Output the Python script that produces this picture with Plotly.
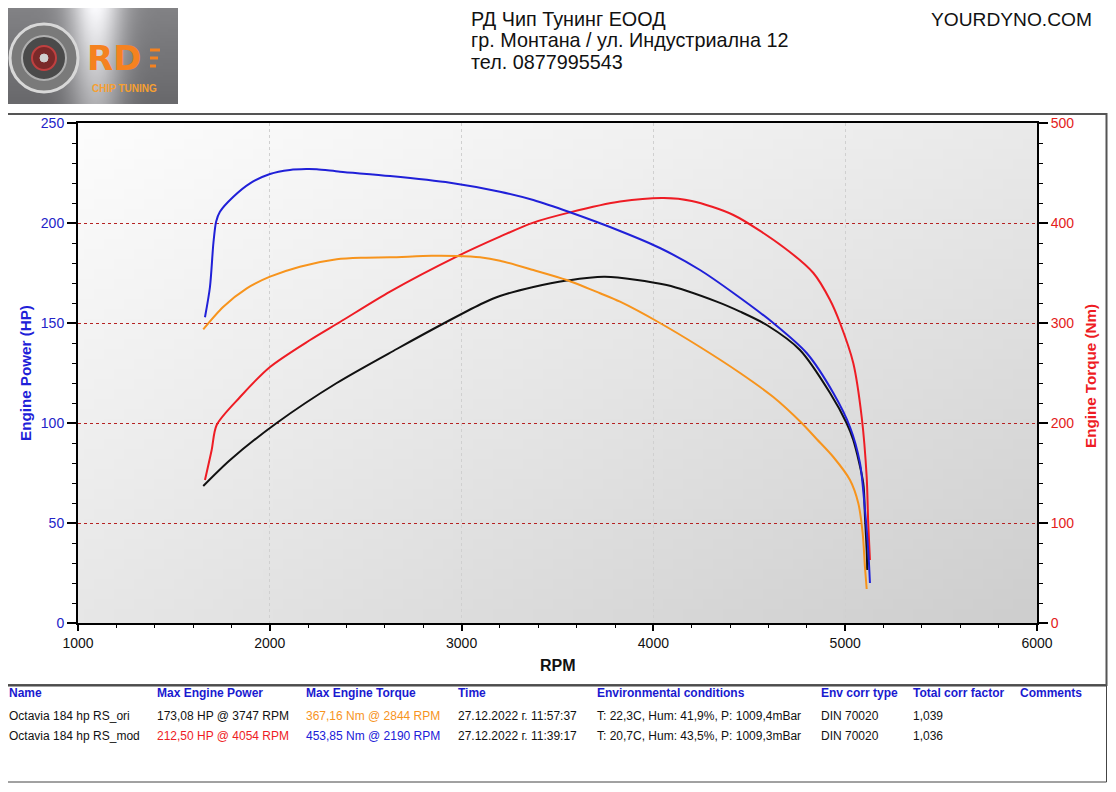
import zlib, struct, base64, math
import plotly.graph_objects as go

# ---------------- data ----------------
rpm_mod_power = [1662, 1697, 1723, 1845, 2001, 2210, 2366, 2627, 2974, 3200, 3374, 3565, 3826, 4054, 4200, 4417, 4677, 4834, 4921, 4973, 5042, 5086, 5112, 5120, 5129]
mod_power_hp = [71.5, 86.5, 99, 113, 128, 141.5, 150.5, 165.7, 183.2, 193.2, 200.2, 205.3, 210.7, 212.5, 211, 204, 188, 175, 161.5, 150, 130, 103, 73, 50, 31.5]

rpm_mod_torque = [1662, 1688, 1706, 1720, 1740, 1810, 1897, 2001, 2105, 2190, 2245, 2366, 2627, 2940, 3200, 3374, 3565, 3826, 4034, 4243, 4417, 4625, 4799, 4938, 5025, 5077, 5103, 5120, 5129]
mod_torque_nm = [305.7, 336, 380, 401.3, 411.3, 426.3, 439.7, 449, 453, 453.9, 453.7, 451.3, 447, 440.3, 431.3, 423, 410.7, 392, 375, 353, 330, 300, 270, 230, 196, 160, 113, 73, 40]

rpm_ori_power = [1653, 1793, 2036, 2349, 2662, 2940, 3113, 3200, 3374, 3548, 3747, 4069, 4330, 4452, 4591, 4764, 4921, 5007, 5042, 5094, 5103, 5112, 5115]
ori_power_hp = [68.5, 81.5, 100, 120, 137, 151.5, 160, 163.5, 168, 171.2, 173.1, 169, 160.7, 155.7, 149, 136.5, 115, 100, 91.5, 70, 53, 36.5, 26.5]

rpm_ori_torque = [1653, 1758, 1880, 2001, 2157, 2349, 2488, 2627, 2844, 2974, 3096, 3200, 3374, 3548, 3722, 3826, 4034, 4243, 4452, 4625, 4773, 4851, 4938, 5025, 5068, 5091, 5103, 5112]
ori_torque_nm = [293.7, 316.3, 334.7, 346.3, 356.3, 363.7, 365.3, 365.7, 367.2, 367, 365.7, 362.3, 353, 343, 329.7, 321.3, 300, 276, 250, 226, 200, 184, 166, 143, 120, 90, 56, 34]

rpm_ticks = [1000, 2000, 3000, 4000, 5000, 6000]
hp_ticks = [0, 50, 100, 150, 200, 250]
nm_ticks = [0, 100, 200, 300, 400, 500]

header_lines = ["РД Чип Тунинг ЕООД", "гр. Монтана / ул. Индустриална 12", "тел. 0877995543"]
site_text = "YOURDYNO.COM"

table_headers = ["Name", "Max Engine Power", "Max Engine Torque", "Time",
                 "Environmental conditions", "Env corr type", "Total corr factor", "Comments"]
row_ori = ["Octavia 184 hp RS_ori", "173,08 HP @ 3747 RPM", "367,16 Nm @ 2844 RPM",
           "27.12.2022 г. 11:57:37", "T: 22,3C, Hum: 41,9%, P: 1009,4mBar", "DIN 70020", "1,039", ""]
row_mod = ["Octavia 184 hp RS_mod", "212,50 HP @ 4054 RPM", "453,85 Nm @ 2190 RPM",
           "27.12.2022 г. 11:39:17", "T: 20,7C, Hum: 43,5%, P: 1009,3mBar", "DIN 70020", "1,036", ""]

# ---------------- styling ----------------
C_BLUE = "#2020d8"
C_RED = "#ee1c24"
C_BLACK = "#111111"
C_ORANGE = "#f7941d"
FONT = "Liberation Sans, Arial, sans-serif"

OFF = 8                      # page body margin
W, H = 1100, 776             # figure size
PAGE_L, PAGE_T = 78, 123     # plot area top-left on the page
PW, PH = 959, 500
L, T = PAGE_L - OFF, PAGE_T - OFF
R, B = W - L - PW, H - T - PH


def px_x(px):
    return (px - PAGE_L) / PW


def px_y(py):
    return (PAGE_T + PH - py) / PH


def png_uri(w, h, fn):
    raw = bytearray()
    for j in range(h):
        raw.append(0)
        for i in range(w):
            r, g, b = fn(i / (w - 1), j / (h - 1))
            raw += bytes((max(0, min(255, int(r))), max(0, min(255, int(g))), max(0, min(255, int(b)))))

    def chunk(t, d):
        c = struct.pack(">I", len(d)) + t + d
        return c + struct.pack(">I", zlib.crc32(t + d) & 0xffffffff)

    png = (b"\x89PNG\r\n\x1a\n"
           + chunk(b"IHDR", struct.pack(">IIBBBBB", w, h, 8, 2, 0, 0, 0))
           + chunk(b"IDAT", zlib.compress(bytes(raw), 9))
           + chunk(b"IEND", b""))
    return "data:image/png;base64," + base64.b64encode(png).decode()


def bg_fn(u, v):
    val = 253 - 19 * u - 22 * v - 6 * u * v
    return (val, val, val)


def logo_fn(u, v):
    val = 105 + 120 * math.exp(-((u - 0.52) / 0.16) ** 2) * (1 - 0.4 * v) + 25 * (1 - v)
    return (val, val, val + 3)


bg_uri = png_uri(96, 50, bg_fn)
logo_uri = png_uri(60, 34, logo_fn)

fig = go.Figure()

line_common = dict(width=2, shape="spline", smoothing=0.8)
fig.add_trace(go.Scatter(x=rpm_ori_power, y=ori_power_hp, mode="lines", yaxis="y",
                         line=dict(color=C_BLACK, **line_common), name="ori power"))
fig.add_trace(go.Scatter(x=rpm_mod_power, y=mod_power_hp, mode="lines", yaxis="y",
                         line=dict(color=C_RED, **line_common), name="mod power"))
fig.add_trace(go.Scatter(x=rpm_ori_torque, y=ori_torque_nm, mode="lines", yaxis="y2",
                         line=dict(color=C_ORANGE, **line_common), name="ori torque"))
fig.add_trace(go.Scatter(x=rpm_mod_torque, y=mod_torque_nm, mode="lines", yaxis="y2",
                         line=dict(color=C_BLUE, **line_common), name="mod torque"))

images = [
    dict(source=bg_uri, xref="paper", yref="paper", x=0, y=1, sizex=1, sizey=1,
         sizing="stretch", layer="below", xanchor="left", yanchor="top"),
    dict(source=logo_uri, xref="paper", yref="paper", x=px_x(7), y=px_y(8),
         sizex=px_x(178) - px_x(7), sizey=px_y(8) - px_y(104),
         sizing="stretch", layer="above", xanchor="left", yanchor="top"),
]

shapes = []
# chart frame
shapes.append(dict(type="rect", xref="paper", yref="paper", x0=px_x(7), x1=px_x(1106.5),
                   y0=px_y(685), y1=px_y(114), line=dict(color="#555555", width=2), layer="below"))
# table frame
shapes.append(dict(type="rect", xref="paper", yref="paper", x0=px_x(7), x1=px_x(1106.5),
                   y0=px_y(782), y1=px_y(686), line=dict(color="#444444", width=1), layer="below"))


def circle(cx, cy, r, fill, line_col, lw=1):
    return dict(type="circle", xref="paper", yref="paper",
                x0=px_x(cx - r), x1=px_x(cx + r), y0=px_y(cy + r), y1=px_y(cy - r),
                fillcolor=fill, line=dict(color=line_col, width=lw), layer="above")


shapes.append(circle(44, 58, 34, "#7a7a7a", "#d8d8d8", 3))
shapes.append(circle(44, 58, 22, "#4a4a4a", "#b0b0b0", 2))
shapes.append(circle(44, 58, 12, "#7a2a2a", "#c04040", 2))
shapes.append(circle(44, 58, 4, "#d0d0d0", "#d0d0d0", 1))
for k, yy in enumerate([50, 58, 66]):
    shapes.append(dict(type="line", xref="paper", yref="paper",
                       x0=px_x(150), x1=px_x(160 - 2 * k), y0=px_y(yy), y1=px_y(yy),
                       line=dict(color="#f58220", width=3), layer="above"))

annotations = []
for i, txt in enumerate(header_lines):
    annotations.append(dict(text=txt, xref="paper", yref="paper", x=px_x(469), y=px_y(19 + 21.5 * i),
                            xanchor="left", yanchor="middle", showarrow=False,
                            font=dict(family=FONT, size=19.8, color="#111111")))
annotations.append(dict(text=site_text, xref="paper", yref="paper", x=px_x(1094), y=px_y(19),
                        xanchor="right", yanchor="middle", showarrow=False,
                        font=dict(family=FONT, size=19.2, color="#111111")))
# logo text
annotations.append(dict(text="<b>RD</b>", xref="paper", yref="paper", x=px_x(114), y=px_y(58),
                        xanchor="center", yanchor="middle", showarrow=False,
                        font=dict(family="DejaVu Sans, sans-serif", size=34, color="#f58220")))
annotations.append(dict(text="<b>CHIP TUNING</b>", xref="paper", yref="paper", x=px_x(124), y=px_y(89),
                        xanchor="center", yanchor="middle", showarrow=False,
                        font=dict(family=FONT, size=10, color="#f7a030")))

# axis titles
annotations.append(dict(text="<b>Engine Power (HP)</b>", xref="paper", yref="paper", x=px_x(25), y=px_y(373),
                        textangle=-90, xanchor="center", yanchor="middle", showarrow=False,
                        font=dict(family=FONT, size=15.2, color=C_BLUE)))
annotations.append(dict(text="<b>Engine Torque (Nm)</b>", xref="paper", yref="paper", x=px_x(1090), y=px_y(376),
                        textangle=-90, xanchor="center", yanchor="middle", showarrow=False,
                        font=dict(family=FONT, size=15.2, color=C_RED)))
annotations.append(dict(text="<b>RPM</b>", xref="paper", yref="paper", x=px_x(558), y=px_y(665),
                        xanchor="center", yanchor="middle", showarrow=False,
                        font=dict(family=FONT, size=16, color="#111111")))

# table
col_px = [7, 155, 304, 456, 595, 819, 911, 1018]
for c, txt in enumerate(table_headers):
    annotations.append(dict(text="<b>" + txt + "</b>", xref="paper", yref="paper", x=px_x(col_px[c]), y=px_y(693),
                            xanchor="left", yanchor="middle", showarrow=False,
                            font=dict(family=FONT, size=12, color="#1a1ad0")))
row_colors = [
    ["#111111", "#111111", C_ORANGE, "#111111", "#111111", "#111111", "#111111", "#111111"],
    ["#111111", C_RED, C_BLUE, "#111111", "#111111", "#111111", "#111111", "#111111"],
]
for r_i, row in enumerate([row_ori, row_mod]):
    for c, txt in enumerate(row):
        if not txt:
            continue
        annotations.append(dict(text=txt, xref="paper", yref="paper", x=px_x(col_px[c]), y=px_y(716 + 19.5 * r_i),
                                xanchor="left", yanchor="middle", showarrow=False,
                                font=dict(family=FONT, size=12, color=row_colors[r_i][c])))

fig.update_layout(
    width=W, height=H,
    margin=dict(l=L, r=R, t=T, b=B, pad=0),
    paper_bgcolor="white",
    plot_bgcolor="rgba(0,0,0,0)",
    showlegend=False,
    font=dict(family=FONT, size=14, color="#111111"),
    xaxis=dict(range=[1000, 6000], tickvals=rpm_ticks, showgrid=True, gridcolor="#d0d0d0",
               griddash="dot", gridwidth=1, zeroline=False, showline=True, linecolor="black",
               linewidth=2, mirror=True, ticks="outside", ticklen=6, tickwidth=1.5, tickcolor="black",
               minor=dict(dtick=200, ticks="outside", ticklen=3, tickwidth=1, tickcolor="black", showgrid=False),
               tickfont=dict(family=FONT, size=14, color="#111111")),
    yaxis=dict(range=[0, 250], tickvals=hp_ticks, showgrid=True, gridcolor="#b52222",
               griddash="dot", gridwidth=1, zeroline=False, showline=True, linecolor="black",
               linewidth=2, ticks="outside", ticklen=9, tickwidth=1.5, tickcolor="black",
               minor=dict(dtick=10, ticks="outside", ticklen=4, tickwidth=1, tickcolor="black", showgrid=False),
               tickfont=dict(family=FONT, size=14, color="#2424c8")),
    yaxis2=dict(range=[0, 500], tickvals=nm_ticks, overlaying="y", side="right", showgrid=False,
                zeroline=False, showline=True, linecolor="black", linewidth=2, ticks="outside",
                ticklen=9, tickwidth=1.5, tickcolor="black",
                minor=dict(dtick=20, ticks="outside", ticklen=4, tickwidth=1, tickcolor="black", showgrid=False),
                tickfont=dict(family=FONT, size=14, color="#e3201b")),
    images=images,
    shapes=shapes,
    annotations=annotations,
)

fig.write_html("out.html")
